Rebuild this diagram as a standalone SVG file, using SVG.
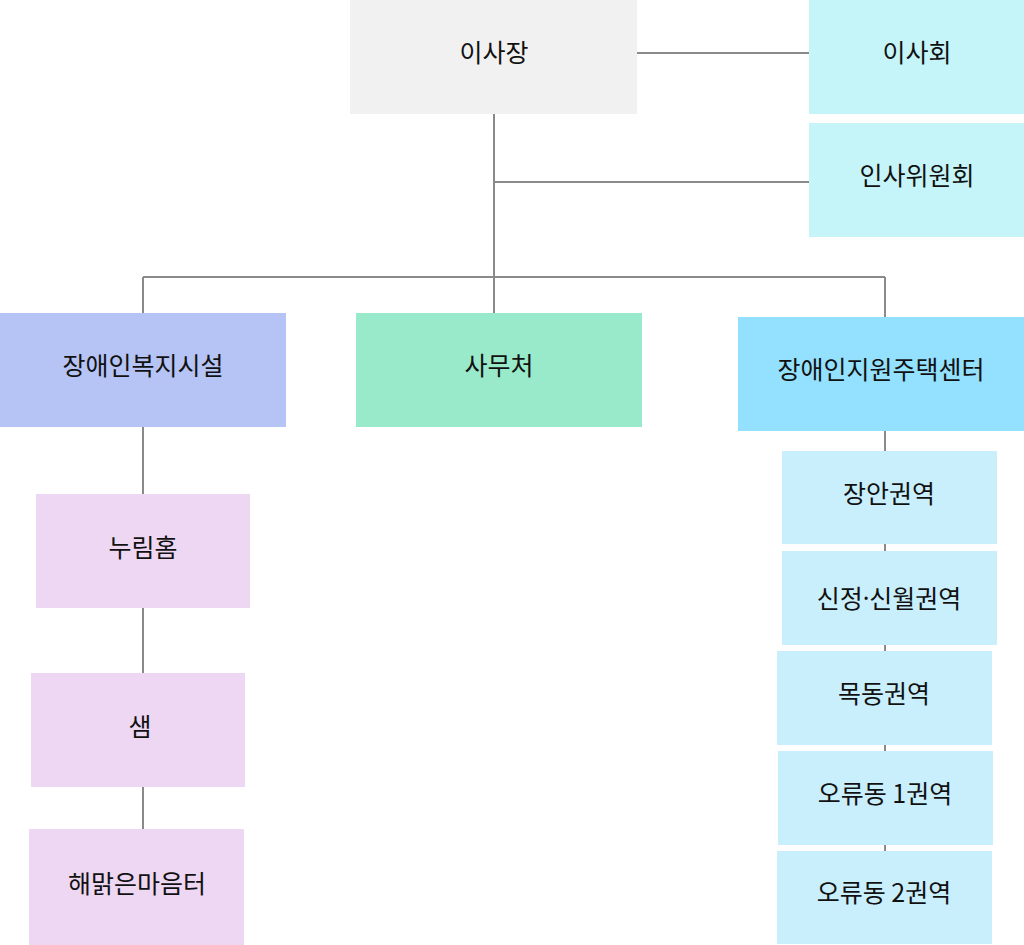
<svg xmlns="http://www.w3.org/2000/svg" width="1024" height="945" viewBox="0 0 1024 945">
<style>
text{font-family:"Noto Sans CJK KR","Noto Sans",sans-serif;font-size:25px;fill:#111;text-anchor:middle;dominant-baseline:central}
.dot{font-family:"Noto Sans",sans-serif}
.ln{stroke:#8a8a8a;stroke-width:2;fill:none}
.top{fill:#f1f1f1}.board{fill:#c5f5f9}.fac{fill:#b5c4f5}.off{fill:#98eaca}.ctr{fill:#93e1ff}.reg{fill:#c9effd}.sub{fill:#eed7f3}
</style>
<rect width="1024" height="945" fill="#fff"/>
<g id="connectors">
<line class="ln" x1="637" y1="53" x2="809" y2="53"/>
<line class="ln" x1="494" y1="114" x2="494" y2="313"/>
<line class="ln" x1="494" y1="182" x2="809" y2="182"/>
<line class="ln" x1="143" y1="277" x2="885" y2="277"/>
<line class="ln" x1="143" y1="277" x2="143" y2="313"/>
<line class="ln" x1="885" y1="277" x2="885" y2="317"/>
<line class="ln" x1="143" y1="427" x2="143" y2="494"/>
<line class="ln" x1="143" y1="608" x2="143" y2="673"/>
<line class="ln" x1="143" y1="787" x2="143" y2="829"/>
<line class="ln" x1="885" y1="431" x2="885" y2="451"/>
<line class="ln" x1="885" y1="544" x2="885" y2="551"/>
<line class="ln" x1="885" y1="645" x2="885" y2="651"/>
<line class="ln" x1="885" y1="745" x2="885" y2="751"/>
<line class="ln" x1="885" y1="845" x2="885" y2="851"/>
</g>
<g id="n-chair"><rect class="top" x="350" y="0" width="287" height="114"/><text x="494" y="51">이사장</text></g>
<g id="n-board"><rect class="board" x="809" y="0" width="215" height="114"/><text x="917" y="51">이사회</text></g>
<g id="n-hr"><rect class="board" x="809" y="123" width="215" height="114"/><text x="917" y="174">인사위원회</text></g>
<g id="n-facility"><rect class="fac" x="0" y="313" width="286" height="114"/><text x="143" y="364">장애인복지시설</text></g>
<g id="n-office"><rect class="off" x="356" y="313" width="286" height="114"/><text x="499" y="364">사무처</text></g>
<g id="n-center"><rect class="ctr" x="738" y="317" width="286" height="114"/><text x="881" y="368">장애인지원주택센터</text></g>
<g id="n-nurim"><rect class="sub" x="36" y="494" width="214" height="114"/><text x="143" y="546">누림홈</text></g>
<g id="n-saem"><rect class="sub" x="31" y="673" width="214" height="114"/><text x="140" y="725">샘</text></g>
<g id="n-haemalgeun"><rect class="sub" x="29" y="829" width="215" height="116"/><text x="137" y="882">해맑은마음터</text></g>
<g id="n-jangan"><rect class="reg" x="782" y="451" width="215" height="93"/><text x="889" y="492">장안권역</text></g>
<g id="n-sinjeong"><rect class="reg" x="782" y="551" width="215" height="94"/><text x="889" y="597">신정<tspan class="dot">·</tspan>신월권역</text></g>
<g id="n-mokdong"><rect class="reg" x="777" y="651" width="215" height="94"/><text x="884" y="692">목동권역</text></g>
<g id="n-oryu1"><rect class="reg" x="778" y="751" width="215" height="94"/><text x="885" y="792">오류동 1권역</text></g>
<g id="n-oryu2"><rect class="reg" x="777" y="851" width="215" height="93"/><text x="884" y="891">오류동 2권역</text></g>
</svg>
